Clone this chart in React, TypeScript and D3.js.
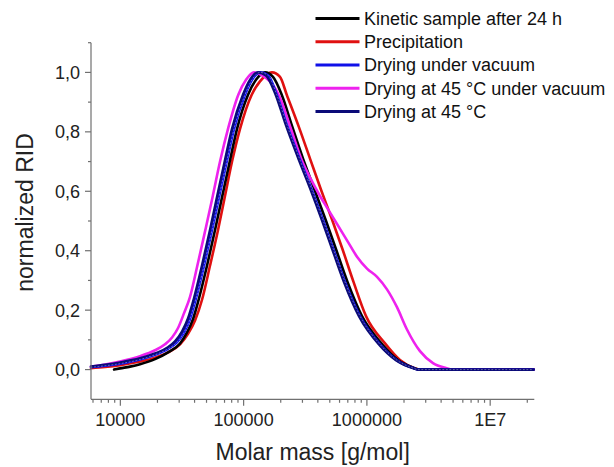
import React from "react";
import * as d3 from "d3";

// ---- data (molar mass in g/mol, normalized RID) ----
const kineticM = [8890, 9945, 11990, 14450, 19110, 24370, 30490, 34750, 38870, 43470, 50490, 58610, 67200, 77160, 88410, 108600, 126000, 149100, 173100, 203700, 246900, 303300, 372400, 461600, 561600, 696000, 912600, 1326000, 1788000, 2432000, 2646000, 22500000];
const kineticV = [0.0, 0.004, 0.01, 0.018, 0.035, 0.058, 0.088, 0.125, 0.17, 0.24, 0.35, 0.47, 0.585, 0.70, 0.81, 0.925, 0.975, 1.0, 0.985, 0.925, 0.82, 0.71, 0.61, 0.505, 0.405, 0.295, 0.18, 0.086, 0.032, 0.005, 0, 0];

const precipM = [5780, 7515, 9945, 14450, 19110, 24370, 30490, 35410, 40350, 45980, 53400, 61990, 70660, 80540, 93500, 116300, 135800, 169900, 197300, 223700, 281400, 345500, 424400, 521200, 634100, 778700, 983300, 1403000, 1855000, 2410000, 2696000, 22500000];
const precipV = [0.005, 0.009, 0.015, 0.027, 0.04, 0.058, 0.085, 0.12, 0.165, 0.235, 0.35, 0.47, 0.585, 0.70, 0.81, 0.925, 0.97, 1.0, 0.985, 0.925, 0.815, 0.71, 0.605, 0.505, 0.405, 0.295, 0.18, 0.088, 0.032, 0.005, 0, 0];

const vacuumM = [5780, 7515, 9945, 14450, 19110, 24370, 28840, 32860, 36750, 41110, 47740, 55430, 63520, 72940, 83590, 102600, 117000, 135800, 157700, 185600, 223700, 286800, 356800, 443100, 534000, 664300, 879000, 1277000, 1745000, 2379000, 2612000, 22500000];
const vacuumV = [0.008, 0.013, 0.02, 0.034, 0.05, 0.07, 0.092, 0.125, 0.17, 0.24, 0.35, 0.47, 0.585, 0.70, 0.81, 0.925, 0.975, 1.0, 0.99, 0.925, 0.825, 0.705, 0.605, 0.5, 0.405, 0.295, 0.18, 0.085, 0.032, 0.005, 0, 0];

const hotVacuumM = [5780, 7515, 9945, 14450, 19110, 23040, 26270, 29380, 32860, 36750, 41890, 48630, 55950, 64360, 75150, 90570, 104600, 121400, 141000, 163700, 197300, 240200, 297600, 352100, 408800, 474800, 572300, 689600, 831000, 1002000, 1208000, 1455000, 1754000, 2114000, 2696000, 3437000, 4380000, 4900000, 22500000];
const hotVacuumV = [0.01, 0.017, 0.027, 0.045, 0.065, 0.085, 0.108, 0.14, 0.19, 0.245, 0.345, 0.465, 0.58, 0.70, 0.814, 0.925, 0.975, 1.0, 0.99, 0.97, 0.915, 0.814, 0.703, 0.64, 0.59, 0.545, 0.49, 0.435, 0.38, 0.34, 0.312, 0.27, 0.21, 0.135, 0.062, 0.022, 0.005, 0, 0];

const hotM = [5780, 7515, 9945, 14450, 19110, 24370, 27770, 31650, 35410, 39600, 45980, 53400, 61180, 70270, 80540, 98880, 112700, 130900, 151900, 182100, 219500, 281400, 350100, 434700, 524200, 652100, 862700, 1253000, 1722000, 2365000, 2597000, 22500000];
const hotV = [0.01, 0.016, 0.024, 0.038, 0.054, 0.075, 0.095, 0.128, 0.172, 0.24, 0.35, 0.47, 0.585, 0.70, 0.81, 0.925, 0.975, 1.0, 0.99, 0.925, 0.825, 0.705, 0.605, 0.5, 0.405, 0.295, 0.18, 0.085, 0.032, 0.005, 0, 0];

const seriesNames = ["Kinetic sample after 24 h", "Precipitation", "Drying under vacuum", "Drying at 45 °C under vacuum", "Drying at 45 °C"];
const seriesColors = ["#000000", "#e01010", "#1010e8", "#ee22ee", "#0a0a78"];

const xTickValues = [1e4, 1e5, 1e6, 1e7];
const xTickLabels = ["10000", "100000", "1000000", "1E7"];
const yTickValues = [0, 0.2, 0.4, 0.6, 0.8, 1.0];
const yTickLabels = ["0,0", "0,2", "0,4", "0,6", "0,8", "1,0"];
const yMinorValues = [0.1, 0.3, 0.5, 0.7, 0.9, 1.1];

export default function App() {
  const W = 614, H = 467;
  const left = 91, right = 534.3, top = 42.7, bottom = 399.3;
  const x = d3.scaleLog().domain([5780, 22800000]).range([left, right]);
  const y = d3.scaleLinear().domain([-0.1, 1.1]).range([bottom, top]);

  const all = [
    { M: kineticM, V: kineticV },
    { M: precipM, V: precipV },
    { M: vacuumM, V: vacuumV },
    { M: hotVacuumM, V: hotVacuumV },
    { M: hotM, V: hotV },
  ];
  const line = d3.line<[number, number]>()
    .x(d => x(d[0]))
    .y(d => y(d[1]))
    .curve(d3.curveMonotoneX);
  const paths = all.map(s => line(s.M.map((m, i) => [m, s.V[i]] as [number, number])) || "");
  const drawOrder = [1, 0, 3, 2, 4];

  const xMinor: number[] = [];
  for (let d = 1e3; d <= 1e7; d *= 10) {
    for (let k = 2; k <= 9; k++) {
      const v = k * d;
      if (v >= 5780 && v <= 22800000) xMinor.push(v);
    }
  }

  const font = "'Liberation Sans', Arial, sans-serif";
  const axisColor = "#707070";
  const legendX1 = 315.5, legendX2 = 359.5, legendY0 = 18.6, legendDy = 23.2;

  return (
    <div style={{ position: "absolute", left: 0, top: 0 }}>
      <svg width={W} height={H} style={{ display: "block", background: "#fff" }} fontFamily={font}>
        <rect x={0} y={0} width={W} height={H} fill="#fff" />
        {/* curves */}
        <g fill="none" strokeLinejoin="round" strokeLinecap="round">
          {drawOrder.map(i => (
            <path key={i} d={paths[i]} stroke={seriesColors[i]} strokeWidth={2.6} />
          ))}
          <path d={paths[2]} stroke="#ffffff" strokeWidth={0.6} strokeDasharray="1 2.5" opacity={0.65} />
        </g>
        {/* axes */}
        <line x1={left} x2={left} y1={top} y2={bottom} stroke={axisColor} strokeWidth={1.2} />
        <line x1={left} x2={right} y1={bottom} y2={bottom} stroke={axisColor} strokeWidth={1.2} />
        {yTickValues.map((v, i) => (
          <g key={"yt" + i}>
            <line x1={left - 6} x2={left} y1={y(v)} y2={y(v)} stroke={axisColor} strokeWidth={1.2} />
            <text x={80} y={y(v)} dy="0.36em" textAnchor="end" fontSize={18} fill="#222">{yTickLabels[i]}</text>
          </g>
        ))}
        {yMinorValues.map((v, i) => (
          <line key={"ym" + i} x1={left - 3} x2={left} y1={y(v)} y2={y(v)} stroke={axisColor} strokeWidth={1.2} />
        ))}
        {xTickValues.map((v, i) => (
          <g key={"xt" + i}>
            <line x1={x(v)} x2={x(v)} y1={bottom} y2={bottom + 6.5} stroke={axisColor} strokeWidth={1.2} />
            <text x={x(v)} y={426} textAnchor="middle" fontSize={18} fill="#222">{xTickLabels[i]}</text>
          </g>
        ))}
        {xMinor.map((v, i) => (
          <line key={"xm" + i} x1={x(v)} x2={x(v)} y1={bottom} y2={bottom + 3.5} stroke={axisColor} strokeWidth={1.2} />
        ))}
        {/* axis titles */}
        <text x={(left + right) / 2} y={460} textAnchor="middle" fontSize={23} fill="#222">Molar mass [g/mol]</text>
        <text transform={`translate(33,212.5) rotate(-90)`} textAnchor="middle" fontSize={23} fill="#222">normalized RID</text>
        {/* legend */}
        {seriesNames.map((n, i) => (
          <g key={"lg" + i}>
            <line x1={legendX1} x2={legendX2} y1={legendY0 + i * legendDy} y2={legendY0 + i * legendDy} stroke={seriesColors[i]} strokeWidth={3} />
            <text x={364} y={legendY0 + i * legendDy} dy="0.36em" fontSize={18} fill="#111">{n}</text>
          </g>
        ))}
      </svg>
    </div>
  );
}
